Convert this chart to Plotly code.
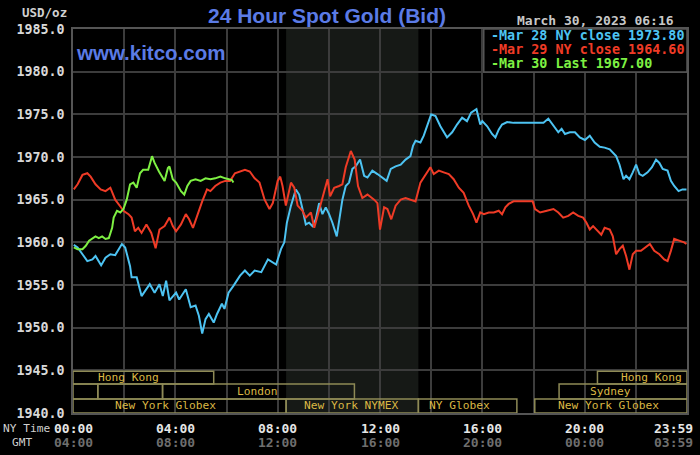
import plotly.graph_objects as go

# hours after NY midnight and bid price
MAR28_HOURS = [0.03, 0.18, 0.37, 0.56, 0.76, 0.88, 1.10, 1.27, 1.46, 1.65, 1.91, 2.04, 2.23, 2.29, 2.49,
               2.68, 3.00, 3.19, 3.38, 3.51, 3.64, 3.77, 4.03, 4.15, 4.41, 4.60, 4.79, 4.92, 5.05, 5.18,
               5.31, 5.50, 5.63, 5.82, 5.92, 6.08, 6.27, 6.53, 6.72, 6.91, 7.10, 7.36, 7.62, 7.81, 7.94,
               8.13, 8.26, 8.36, 8.52, 8.71, 8.84, 8.97, 9.10, 9.23, 9.36, 9.49, 9.62, 9.75, 9.88, 10.01,
               10.14, 10.31, 10.40, 10.53, 10.66, 10.79, 10.92, 11.05, 11.22, 11.38, 11.51, 11.70, 11.90,
               12.09, 12.26, 12.42, 12.61, 12.81, 13.00, 13.19, 13.29, 13.39, 13.58, 13.71, 13.84, 14.00,
               14.17, 14.36, 14.62, 14.82, 15.01, 15.21, 15.40, 15.56, 15.77, 15.92, 16.00, 16.19, 16.38,
               16.51, 16.64, 16.77, 16.97, 17.22, 17.61, 18.00, 18.19, 18.39, 18.58, 18.78, 18.97, 19.10,
               19.23, 19.42, 19.62, 19.81, 20.01, 20.20, 20.39, 20.59, 20.78, 20.98, 21.10, 21.23, 21.36,
               21.52, 21.62, 21.75, 21.88, 22.01, 22.14, 22.27, 22.46, 22.63, 22.79, 22.92, 23.05, 23.24,
               23.37, 23.50, 23.67, 23.82, 23.98]
MAR28_PRICES = [1959.7, 1959.4, 1958.6, 1957.8, 1958.0, 1958.4, 1957.3, 1958.2, 1958.6, 1958.5, 1959.8,
                1959.4, 1957.2, 1955.9, 1955.9, 1953.7, 1955.1, 1954.1, 1955.1, 1953.7, 1955.5, 1953.2,
                1954.1, 1953.3, 1954.5, 1952.4, 1952.6, 1951.4, 1949.3, 1951.0, 1951.6, 1950.6, 1951.6,
                1952.8, 1952.2, 1954.1, 1954.9, 1956.1, 1956.7, 1956.1, 1956.7, 1956.5, 1958.0, 1957.6,
                1957.4, 1959.2, 1960.0, 1962.3, 1964.3, 1966.2, 1965.6, 1963.9, 1962.1, 1962.3, 1961.9,
                1962.7, 1964.6, 1963.3, 1964.1, 1963.3, 1962.3, 1960.7, 1962.3, 1965.0, 1966.6, 1967.0,
                1968.6, 1968.9, 1969.7, 1967.8, 1967.6, 1968.4, 1968.0, 1967.6, 1967.2, 1968.6, 1968.9,
                1969.1, 1969.7, 1970.1, 1971.3, 1971.9, 1971.7, 1972.5, 1973.6, 1975.0, 1974.8, 1973.6,
                1972.3, 1972.9, 1973.8, 1974.6, 1974.2, 1975.2, 1975.6, 1973.8, 1974.2, 1973.6, 1972.7,
                1972.3, 1973.2, 1973.8, 1974.1, 1974.0, 1974.0, 1974.0, 1974.0, 1974.0, 1974.5, 1973.6,
                1972.9, 1973.3, 1972.7, 1972.9, 1972.9, 1972.3, 1972.0, 1972.5, 1971.7, 1971.2, 1971.1,
                1970.9, 1970.5, 1970.1, 1969.1, 1967.4, 1967.8, 1967.4, 1968.2, 1969.1, 1968.0, 1967.8,
                1968.2, 1968.8, 1969.7, 1969.3, 1968.6, 1968.4, 1967.2, 1966.6, 1966.0, 1966.2, 1966.2]

MAR29_HOURS = [0.03, 0.18, 0.37, 0.56, 0.69, 0.88, 1.08, 1.27, 1.46, 1.65, 1.85, 1.97, 2.17, 2.29, 2.42,
               2.55, 2.68, 2.87, 3.06, 3.23, 3.38, 3.58, 3.77, 3.90, 4.03, 4.22, 4.41, 4.54, 4.69, 4.86,
               5.05, 5.24, 5.37, 5.56, 5.76, 5.95, 6.14, 6.33, 6.53, 6.72, 6.91, 7.10, 7.29, 7.49, 7.68,
               7.81, 8.00, 8.10, 8.19, 8.32, 8.52, 8.65, 8.78, 8.97, 9.10, 9.30, 9.43, 9.56, 9.75, 9.95,
               10.05, 10.21, 10.40, 10.53, 10.66, 10.86, 11.01, 11.14, 11.31, 11.51, 11.77, 11.90, 12.00,
               12.16, 12.29, 12.44, 12.61, 12.81, 13.00, 13.19, 13.39, 13.58, 13.78, 13.97, 14.10, 14.30,
               14.49, 14.69, 14.88, 15.08, 15.27, 15.47, 15.64, 15.77, 15.92, 16.06, 16.25, 16.45, 16.64,
               16.77, 16.90, 17.03, 17.22, 17.61, 17.97, 18.06, 18.26, 18.52, 18.78, 18.97, 19.16, 19.36,
               19.55, 19.75, 19.94, 20.07, 20.20, 20.33, 20.52, 20.65, 20.78, 20.98, 21.10, 21.23, 21.36,
               21.49, 21.62, 21.75, 21.88, 22.01, 22.20, 22.40, 22.55, 22.72, 22.92, 23.11, 23.24, 23.37,
               23.50, 23.69, 23.89, 23.98]
MAR29_PRICES = [1966.2, 1966.8, 1967.9, 1968.1, 1967.7, 1966.8, 1966.2, 1966.0, 1966.4, 1965.0, 1964.2,
                1963.7, 1963.3, 1962.9, 1961.3, 1961.7, 1961.1, 1962.1, 1961.1, 1959.3, 1961.5, 1961.9,
                1962.9, 1961.9, 1961.3, 1962.1, 1963.3, 1962.7, 1961.7, 1963.3, 1964.8, 1966.2, 1966.0,
                1966.6, 1967.0, 1967.2, 1967.2, 1968.1, 1968.3, 1968.5, 1968.3, 1967.5, 1967.0, 1965.0,
                1963.9, 1964.6, 1967.2, 1967.7, 1966.6, 1964.3, 1967.0, 1966.4, 1964.3, 1963.7, 1962.9,
                1963.5, 1961.7, 1963.1, 1965.4, 1967.4, 1965.4, 1966.4, 1966.6, 1966.8, 1968.8, 1970.7,
                1969.7, 1966.6, 1965.2, 1965.6, 1965.0, 1964.6, 1961.5, 1964.1, 1963.9, 1962.7, 1964.3,
                1965.0, 1965.2, 1965.0, 1964.8, 1967.0, 1968.0, 1968.8, 1968.0, 1968.4, 1968.2, 1968.0,
                1967.4, 1966.4, 1965.8, 1964.3, 1963.3, 1962.3, 1963.5, 1963.3, 1963.5, 1963.5, 1963.7,
                1963.3, 1964.1, 1964.5, 1964.8, 1964.8, 1964.8, 1963.9, 1963.5, 1963.7, 1963.9, 1963.5,
                1962.9, 1963.1, 1963.5, 1963.1, 1962.9, 1962.3, 1961.5, 1961.9, 1961.3, 1960.9, 1961.7,
                1961.5, 1960.7, 1958.6, 1959.2, 1959.6, 1958.4, 1956.8, 1958.6, 1959.0, 1959.0, 1959.4,
                1959.8, 1959.0, 1958.6, 1958.0, 1957.8, 1959.0, 1960.4, 1960.2, 1960.0, 1959.8]

MAR30_HOURS = [0.03, 0.18, 0.37, 0.50, 0.63, 0.76, 0.88, 1.01, 1.14, 1.27, 1.40, 1.53, 1.59, 1.72, 1.85,
               1.97, 2.10, 2.23, 2.36, 2.49, 2.62, 2.74, 2.94, 3.09, 3.19, 3.36, 3.58, 3.71, 3.77, 3.90,
               4.03, 4.22, 4.35, 4.47, 4.60, 4.79, 4.99, 5.18, 5.37, 5.56, 5.76, 5.95, 6.08, 6.21, 6.27]
MAR30_PRICES = [1959.4, 1959.2, 1959.2, 1959.6, 1960.2, 1960.5, 1960.7, 1960.5, 1960.7, 1960.4, 1960.5,
                1961.7, 1962.9, 1963.7, 1963.5, 1963.9, 1965.0, 1966.8, 1967.0, 1966.4, 1968.1, 1968.5,
                1968.5, 1970.1, 1969.3, 1968.3, 1967.2, 1968.7, 1968.9, 1967.4, 1967.0, 1966.0, 1965.6,
                1966.6, 1967.2, 1967.4, 1967.2, 1967.5, 1967.4, 1967.5, 1967.7, 1967.5, 1967.4, 1967.3,
                1967.0]

LEGEND_TEXT = ['-Mar 28 NY close 1973.80', '-Mar 29 NY close 1964.60', '-Mar 30 Last 1967.00']

Y_TICKS = [1940, 1945, 1950, 1955, 1960, 1965, 1970, 1975, 1980, 1985]
X_TICK_HOURS = [0, 4, 8, 12, 16, 20, 24]
NY_LABELS = ['00:00', '04:00', '08:00', '12:00', '16:00', '20:00', '23:59']
GMT_LABELS = ['04:00', '08:00', '12:00', '16:00', '20:00', '00:00', '03:59']

# trading sessions drawn along the bottom: name, start hr, end hr, row (0 = top), label centre hr
SESSION_NAMES = ['Hong Kong', 'Hong Kong', '', '', 'London', 'Sydney',
                 'New York Globex', 'New York NYMEX', 'NY Globex', 'New York Globex']
SESSION_START = [0.0, 20.5, 0.0, 0.97, 3.5, 19.0, 0.0, 8.33, 13.5, 18.05]
SESSION_END = [5.5, 24.0, 0.97, 3.5, 11.0, 24.0, 8.33, 13.5, 17.35, 24.0]
SESSION_ROW = [0, 0, 1, 1, 1, 1, 2, 2, 2, 2]
SESSION_LABEL_AT = [2.15, 22.6, 0.5, 2.2, 7.2, 21.0, 3.6, 10.9, 15.1, 20.95]
NYMEX_SHADE = (8.33, 13.5)

BLUE = '#4dc3f2'
RED = '#ef3b26'
GREEN = '#7ef043'
MONO = 'DejaVu Sans Mono'
BOX_LINE = '#8e8a56'
BOX_TEXT = '#dbb844'

ROW_BOUNDS = [(1943.4, 1944.9), (1941.65, 1943.4), (1940.0, 1941.65)]

fig = go.Figure()

for hours, prices, color in [(MAR28_HOURS, MAR28_PRICES, BLUE),
                             (MAR29_HOURS, MAR29_PRICES, RED),
                             (MAR30_HOURS, MAR30_PRICES, GREEN)]:
    fig.add_trace(go.Scatter(x=hours, y=prices, mode='lines',
                             line=dict(color=color, width=2), hoverinfo='skip'))

shapes = [dict(type='rect', xref='x', yref='paper', x0=NYMEX_SHADE[0], x1=NYMEX_SHADE[1],
               y0=0, y1=1, fillcolor='#161916', line=dict(width=0), layer='below')]
annotations = []

for name, s, e, row, lab in zip(SESSION_NAMES, SESSION_START, SESSION_END, SESSION_ROW, SESSION_LABEL_AT):
    y0, y1 = ROW_BOUNDS[row]
    shapes.append(dict(type='rect', xref='x', yref='y', x0=s, x1=e, y0=y0, y1=y1,
                       line=dict(color=BOX_LINE, width=1.5), fillcolor='rgba(0,0,0,0)'))
    if name:
        annotations.append(dict(x=lab, y=(y0 + y1) / 2, xref='x', yref='y', text=name, showarrow=False,
                                font=dict(family=MONO, size=11.2, color=BOX_TEXT)))

# legend box in the top right corner
shapes.append(dict(type='rect', xref='paper', yref='paper', x0=0.669, x1=1.0, y0=0.888, y1=1.0,
                   fillcolor='#000000', line=dict(color='#555555', width=1.5)))
for i, (txt, color) in enumerate(zip(LEGEND_TEXT, [BLUE, RED, GREEN])):
    annotations.append(dict(x=0.677, y=0.982 - i * 0.0365, xref='paper', yref='paper', text=txt,
                            showarrow=False, xanchor='left', yanchor='middle',
                            font=dict(family=MONO, size=13.4, color=color, weight='bold')))

for h, ny, gmt in zip(X_TICK_HOURS, NY_LABELS, GMT_LABELS):
    # the last label sits inside the right edge, as on the original
    anchor = 'right' if h == X_TICK_HOURS[-1] else 'center'
    shift = 8 if h == X_TICK_HOURS[-1] else 0
    annotations.append(dict(x=h, y=0, xref='x', yref='paper', text=ny, showarrow=False,
                            xanchor=anchor, xshift=shift, yanchor='middle', yshift=-15,
                            font=dict(family=MONO, size=13, color='#e6e6e6', weight='bold')))
    annotations.append(dict(x=h, y=0, xref='x', yref='paper', text=gmt, showarrow=False,
                            xanchor=anchor, xshift=shift, yanchor='middle', yshift=-29,
                            font=dict(family=MONO, size=13, color='#6e6e6e', weight='bold')))

annotations += [
    dict(x=-0.117, y=0, xref='paper', yref='paper', text='NY Time', showarrow=False,
         xanchor='left', yanchor='middle', yshift=-15, font=dict(family=MONO, size=11.2, color='#d0d0d0')),
    dict(x=-0.103, y=0, xref='paper', yref='paper', text='GMT', showarrow=False,
         xanchor='left', yanchor='middle', yshift=-29, font=dict(family=MONO, size=11.2, color='#d0d0d0')),
    dict(x=-0.086, y=1.042, xref='paper', yref='paper', text='USD/oz', showarrow=False,
         xanchor='left', yanchor='middle', font=dict(family=MONO, size=12.5, color='#d0d0d0', weight='bold')),
    dict(x=0.414, y=1.036, xref='paper', yref='paper', text='24 Hour Spot Gold (Bid)', showarrow=False,
         xanchor='center', yanchor='middle',
         font=dict(family='Liberation Sans', size=21, color='#5b7be6', weight='bold')),
    dict(x=0.0016, y=0.938, xref='paper', yref='paper', text='www.kitco.com', showarrow=False,
         xanchor='left', yanchor='middle',
         font=dict(family='Liberation Sans', size=20.5, color='#5b7be6', weight='bold')),
    dict(x=0.982, y=1.023, xref='paper', yref='paper', text='March 30, 2023 06:16', showarrow=False,
         xanchor='right', yanchor='middle', font=dict(family=MONO, size=13, color='#c8c8c8', weight='bold')),
]

fig.update_layout(
    width=700, height=455,
    margin=dict(l=73, r=11, t=29, b=42),
    paper_bgcolor='#000000', plot_bgcolor='#000000',
    showlegend=False,
    shapes=shapes,
    annotations=annotations,
    xaxis=dict(range=[0, 24], tickvals=list(range(0, 25, 2)), showticklabels=False,
               showgrid=True, gridcolor='#3c3c3c', gridwidth=1.5, zeroline=False,
               showline=True, linecolor='#555555', mirror=True, linewidth=1.5, ticks=''),
    yaxis=dict(range=[1940, 1985], tickvals=Y_TICKS, tickformat='.1f',
               showgrid=True, gridcolor='#3c3c3c', gridwidth=1.5, zeroline=False,
               showline=True, linecolor='#555555', mirror=True, linewidth=1.5, ticks='',
               ticklabelstandoff=4,
               tickfont=dict(family=MONO, size=13.3, color='#d8d8d8', weight='bold')),
)

# drop the browser's default page margin so the 700x455 figure fills the window
fig.write_html('out.html', config={'displayModeBar': False},
               post_script="document.body.style.margin='0';")
